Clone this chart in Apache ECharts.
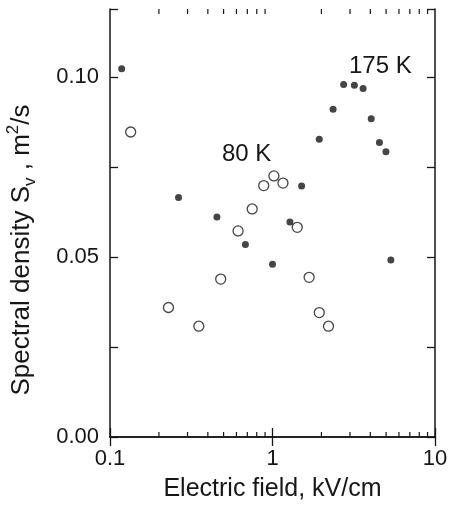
<!DOCTYPE html>
<html>
<head>
<meta charset="utf-8">
<script src="https://cdn.jsdelivr.net/npm/echarts@6/dist/echarts.min.js"></script>
<style>
  html, body { margin: 0; background: #fff; }
  #chart { width: 451px; height: 513px; }
</style>
</head>
<body>
<div id="chart"></div>
<script>
// 175 K data (filled dots): [field kV/cm, Sv m^2/s]
const filled175 = [
  [0.118, 0.1024], [0.264, 0.0666], [0.455, 0.0612], [0.681, 0.0535],
  [1.00, 0.0480], [1.28, 0.0598], [1.51, 0.0698], [1.94, 0.0828],
  [2.36, 0.0911], [2.74, 0.0980], [3.19, 0.0978], [3.61, 0.0969],
  [4.05, 0.0885], [4.55, 0.0819], [4.99, 0.0793], [5.35, 0.0492]
];
// 80 K data (open circles)
const open80 = [
  [0.134, 0.0848], [0.229, 0.0360], [0.352, 0.0308], [0.480, 0.0439],
  [0.614, 0.0573], [0.750, 0.0634], [0.883, 0.0699], [1.02, 0.0726],
  [1.16, 0.0706], [1.42, 0.0583], [1.68, 0.0444], [1.94, 0.0346],
  [2.21, 0.0308]
];
const xMinorTicks = [0.2, 0.3, 0.4, 0.5, 0.6, 0.7, 0.8, 0.9, 2, 3, 4, 5, 6, 7, 8, 9];

const font = 'Liberation Sans, Arial, sans-serif';
const ink = '#161616';

const chart = echarts.init(document.getElementById('chart'), null, { renderer: 'canvas' });

const xBase = {
  type: 'log',
  logBase: 10,
  min: 0.1,
  max: 10,
  splitLine: { show: false },
  axisLine: { show: true, lineStyle: { color: ink, width: 1.5 } },
  axisTick: { show: true, inside: true, length: 9, lineStyle: { color: ink, width: 1.3 } }
};
const yBase = {
  type: 'value',
  min: 0,
  max: 0.119,
  interval: 0.025,
  splitLine: { show: false },
  axisLine: { show: true, lineStyle: { color: ink, width: 1.5 } },
  axisTick: { show: true, inside: true, length: 8, lineStyle: { color: ink, width: 1.3 } }
};

chart.setOption({
  backgroundColor: '#fff',
  animation: false,
  grid: { left: 110, right: 16, top: 9, bottom: 76, outerBoundsMode: 'none', containLabel: false },
  xAxis: [
    Object.assign({}, xBase, {
      position: 'bottom',
      name: 'Electric field, kV/cm',
      nameLocation: 'middle',
      nameGap: 40,
      nameTextStyle: { fontFamily: font, fontSize: 25, color: ink },
      axisLabel: {
        fontFamily: font, fontSize: 22, color: ink, margin: 11,
        formatter: v => (v === 0.1 || v === 1 || v === 10) ? String(v) : ''
      }
    }),
    Object.assign({}, xBase, { position: 'top', axisLabel: { show: false } })
  ],
  yAxis: [
    Object.assign({}, yBase, {
      position: 'left',
      name: '{a|Spectral density S}{sub|v}{a| , m}{sup|2}{a|/s}',
      nameLocation: 'middle',
      nameGap: 71,
      nameTextStyle: {
        fontFamily: font, color: ink,
        padding: [0, 54, 0, 0],
        rich: {
          a: { fontFamily: font, fontSize: 26, color: ink, lineHeight: 34 },
          sub: { fontFamily: font, fontSize: 17, color: ink, lineHeight: 34, verticalAlign: 'bottom' },
          sup: { fontFamily: font, fontSize: 17, color: ink, lineHeight: 34, verticalAlign: 'top' }
        }
      },
      axisLabel: {
        fontFamily: font, fontSize: 22, color: ink, margin: 11,
        formatter: v => (Math.round(v * 1000) % 50 === 0) ? v.toFixed(2) : ''
      }
    }),
    Object.assign({}, yBase, { position: 'right', axisLabel: { show: false } })
  ],
  graphic: [
    { type: 'text', left: 349, top: 54, style: { text: '175 K', fontFamily: font, fontSize: 24, fill: ink } },
    { type: 'text', left: 222, top: 142, style: { text: '80 K', fontFamily: font, fontSize: 24, fill: ink } }
  ],
  series: [
    {
      type: 'custom',
      silent: true,
      data: xMinorTicks.map(v => [v, 0]),
      renderItem: function (params, api) {
        const cs = params.coordSys;
        const px = api.coord([api.value(0), 0])[0];
        const st = { stroke: ink, lineWidth: 1.2 };
        return {
          type: 'group',
          children: [
            { type: 'line', shape: { x1: px, y1: cs.y + cs.height, x2: px, y2: cs.y + cs.height - 5 }, style: st },
            { type: 'line', shape: { x1: px, y1: cs.y, x2: px, y2: cs.y + 5 }, style: st }
          ]
        };
      }
    },
    {
      name: '175 K',
      type: 'scatter',
      data: filled175,
      symbol: 'circle',
      symbolSize: 7,
      itemStyle: { color: ink }
    },
    {
      name: '80 K',
      type: 'scatter',
      data: open80,
      symbol: 'circle',
      symbolSize: 10,
      itemStyle: { color: '#fff', borderColor: ink, borderWidth: 1.3 }
    }
  ]
});
</script>
</body>
</html>
